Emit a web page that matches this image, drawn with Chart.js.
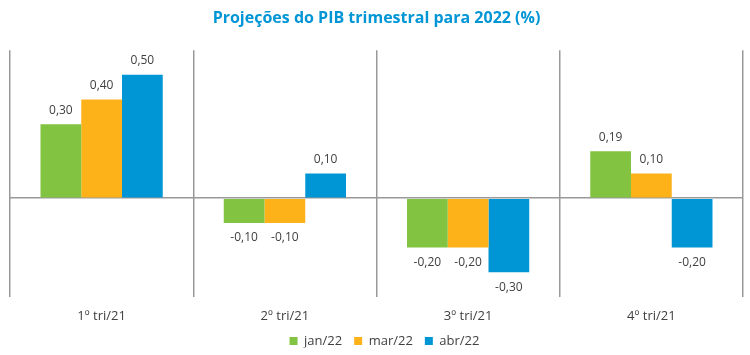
<!DOCTYPE html>
<html><head><meta charset="utf-8">
<script src="https://cdn.jsdelivr.net/npm/chart.js@4/dist/chart.umd.min.js"></script>
<style>html,body{margin:0;padding:0;background:#fff}#wrap{width:750px;height:355px;position:relative}</style>
</head><body><div id="wrap"><canvas id="c"></canvas></div>
<script>
const categories = ['1º tri/21', '2º tri/21', '3º tri/21', '4º tri/21'];
const jan22 = [0.30, -0.10, -0.20, 0.19];
const mar22 = [0.40, -0.10, -0.20, 0.10];
const abr22 = [0.50, 0.10, -0.30, -0.20];
const seriesNames = ['jan/22', 'mar/22', 'abr/22'];
const colors = ['#82C341', '#FDB21A', '#0096D6'];

const FONT = "'Open Sans', 'Liberation Sans', sans-serif";

const labelPlugin = {
  id: 'barLabels',
  beforeLayout(chart) {
    const lg = chart.legend;
    if (lg && !lg._patched) {
      const orig = lg.fit.bind(lg);
      lg.fit = function () { orig(); this.height -= 10; };
      lg._patched = true;
    }
  },
  afterLayout(chart) {
    const lg = chart.legend;
    if (lg) { lg.left += 8; lg.right += 8; }
  },
  afterDatasetsDraw(chart) {
    const ctx = chart.ctx;
    ctx.save();
    ctx.font = '12px ' + FONT;
    ctx.fillStyle = '#404040';
    ctx.textAlign = 'center';
    ctx.textBaseline = 'middle';
    chart.data.datasets.forEach((ds, i) => {
      chart.getDatasetMeta(i).data.forEach((bar, j) => {
        const v = ds.data[j];
        const txt = v.toFixed(2).replace('.', ',');
        const y = v >= 0 ? bar.y - 14 : bar.y + 15;
        ctx.fillText(txt, bar.x, y);
      });
    });
    ctx.restore();
  }
};

new Chart(document.getElementById('c'), {
  type: 'bar',
  data: {
    labels: categories,
    datasets: [jan22, mar22, abr22].map((d, i) => ({
      label: seriesNames[i], data: d, backgroundColor: colors[i],
      categoryPercentage: 0.667, barPercentage: 1.0, borderWidth: 0
    }))
  },
  options: {
    responsive: true, maintainAspectRatio: false, animation: false,
    layout: { padding: { left: 10, right: 7, top: 1, bottom: 7.5 } },
    plugins: {
      title: { display: true, text: 'Projeções do PIB trimestral para 2022 (%)', color: '#0096D6',
        font: { family: FONT, size: 16, weight: 'bold' }, padding: { top: 8, bottom: 22 } },
      legend: { position: 'bottom', labels: { boxWidth: 8, boxHeight: 8, color: '#404040', padding: 12,
        font: { family: FONT, size: 13 } } },
      tooltip: { enabled: false }
    },
    scales: {
      x: {
        grid: { offset: true, color: '#999999', lineWidth: 1.5, drawTicks: false },
        border: { display: false },
        ticks: { color: '#404040', font: { family: FONT, size: 13 }, padding: 12 },
        afterFit(scale) { scale.height -= 14; }
      },
      y: {
        min: -0.4, max: 0.6,
        ticks: { display: false, stepSize: 0.1 },
        grid: { drawTicks: false, color: c => Math.abs(c.tick.value) < 1e-9 ? '#999999' : 'rgba(0,0,0,0)', lineWidth: 1.5 },
        border: { display: false }
      }
    }
  },
  plugins: [labelPlugin]
});
</script></body></html>
